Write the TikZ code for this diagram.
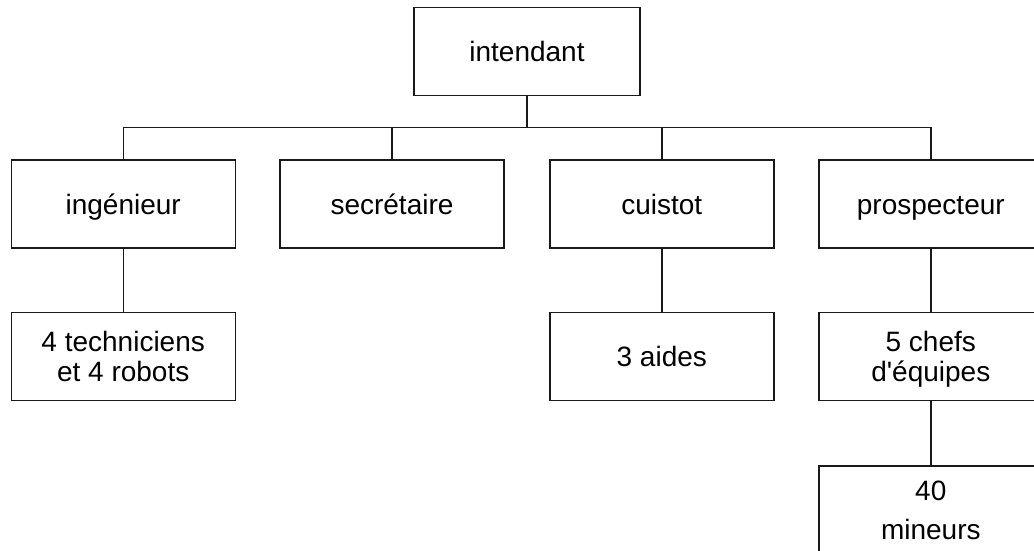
\documentclass[tikz,border=0pt]{standalone}
\usepackage{fontspec}
\setmainfont{Liberation Sans}[Ligatures=TeXOff]
\begin{document}
\begin{tikzpicture}[x=1pt,y=-1pt,
  orgbox/.style={draw=black!90, line width=1.4pt, rectangle, inner sep=0pt,
    minimum width=224pt, minimum height=88pt, align=center,
    font=\fontsize{28}{30}\selectfont, text height=20pt, text depth=0pt},
  twoline/.style={text height=50pt},
  wideline/.style={font=\fontsize{28}{38.6}\selectfont, text height=58.6pt},
  link/.style={draw=black!90, line width=1.4pt}]
\useasboundingbox (0,0) rectangle (1034,550);
\clip (0,0) rectangle (1034,550);
\node[orgbox, minimum width=226pt] (int) at (527,51.4) {intendant};
\node[orgbox] (ing) at (123.2,204) {ingénieur};
\node[orgbox] (sec) at (392,204) {secrétaire};
\node[orgbox] (cui) at (661.8,204) {cuistot};
\node[orgbox] (pro) at (930.8,204) {prospecteur};
\node[orgbox, twoline] (tec) at (123.2,356.7) {4 techniciens\\et 4 robots};
\node[orgbox] (aid) at (661.8,356.7) {3 aides};
\node[orgbox, twoline] (che) at (930.8,356.7) {5 chefs\\d'équipes};
\node[orgbox, wideline] (min) at (930.8,510) {40\\mineurs};
\coordinate (bus) at (527,127.3);
\draw[link] (int.south) -- (int.south |- bus);
\draw[link] (ing.north) -- (ing.north |- bus) -- (pro.north |- bus) -- (pro.north);
\draw[link] (sec.north) -- (sec.north |- bus);
\draw[link] (cui.north) -- (cui.north |- bus);
\draw[link] (ing.south) -- (tec.north);
\draw[link] (cui.south) -- (aid.north);
\draw[link] (pro.south) -- (che.north);
\draw[link] (che.south) -- (min.north);
\end{tikzpicture}
\end{document}
